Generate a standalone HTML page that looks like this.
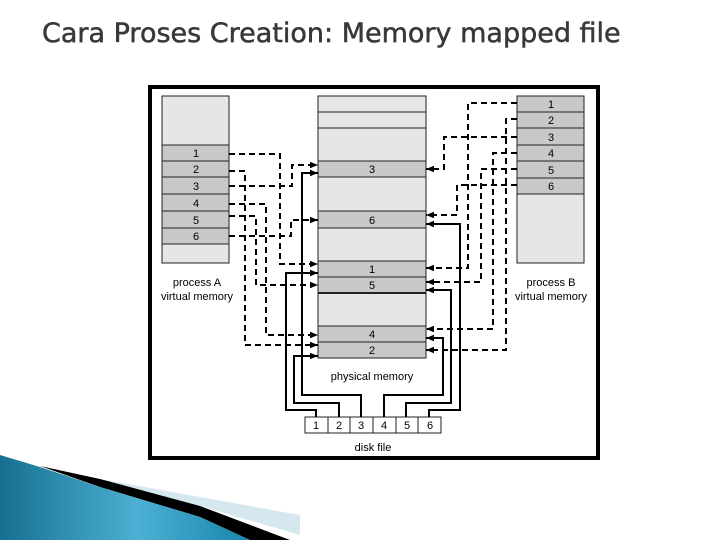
<!DOCTYPE html>
<html><head><meta charset="utf-8"><style>
html,body{margin:0;padding:0;background:#fff;}
svg{display:block}
</style></head><body>
<svg width="720" height="540" viewBox="0 0 720 540" xmlns="http://www.w3.org/2000/svg">
<defs>
<marker id="ar" viewBox="0 0 10 10" refX="10" refY="5" markerWidth="8" markerHeight="8" markerUnits="userSpaceOnUse" orient="auto"><path d="M0,1 L10,5 L0,9 z" fill="#000"/></marker>
<linearGradient id="bl" x1="0" y1="0" x2="1" y2="0"><stop offset="0" stop-color="#17708f"/><stop offset="0.55" stop-color="#4bb0d4"/><stop offset="1" stop-color="#1a86aa"/></linearGradient>
</defs>
<text x="42" y="42" font-family="DejaVu Sans, sans-serif" font-size="27" fill="#383838" stroke="#383838" stroke-width="0.5">Cara Proses Creation: Memory mapped file</text>

<!-- frame -->
<rect x="150" y="87" width="448" height="371" fill="#fff" stroke="#000" stroke-width="4"/>

<g stroke="#222" stroke-width="1">
<rect x="162" y="96" width="67" height="167" fill="#e6e6e6"/>
<rect x="162" y="145" width="67" height="99" fill="#c8c8c8"/>
<line x1="162" y1="161" x2="229" y2="161"/><line x1="162" y1="177" x2="229" y2="177"/><line x1="162" y1="194" x2="229" y2="194"/><line x1="162" y1="211" x2="229" y2="211"/><line x1="162" y1="228" x2="229" y2="228"/><line x1="162" y1="244" x2="229" y2="244"/><line x1="162" y1="145" x2="229" y2="145"/>
<rect x="318" y="96" width="108" height="262" fill="#e6e6e6"/>
<rect x="318" y="161" width="108" height="16" fill="#c8c8c8"/>
<rect x="318" y="211" width="108" height="17" fill="#c8c8c8"/>
<rect x="318" y="261" width="108" height="32" fill="#c8c8c8"/>
<rect x="318" y="326" width="108" height="32" fill="#c8c8c8"/>
<line x1="318" y1="112" x2="426" y2="112"/><line x1="318" y1="128" x2="426" y2="128"/><line x1="318" y1="277" x2="426" y2="277"/><line x1="318" y1="342" x2="426" y2="342"/>
<line x1="318" y1="293" x2="426" y2="293" stroke-width="2"/>
<rect x="517" y="96" width="67" height="167" fill="#e6e6e6"/>
<rect x="517" y="96" width="67" height="98" fill="#c8c8c8"/>
<line x1="517" y1="112" x2="584" y2="112"/><line x1="517" y1="128" x2="584" y2="128"/><line x1="517" y1="145" x2="584" y2="145"/><line x1="517" y1="161" x2="584" y2="161"/><line x1="517" y1="178" x2="584" y2="178"/><line x1="517" y1="194" x2="584" y2="194"/>
<rect x="305" y="417" width="136" height="16" fill="#fff"/>
<line x1="328" y1="417" x2="328" y2="433"/><line x1="350" y1="417" x2="350" y2="433"/><line x1="373" y1="417" x2="373" y2="433"/><line x1="396" y1="417" x2="396" y2="433"/><line x1="418" y1="417" x2="418" y2="433"/>
</g>

<g font-family="Liberation Sans, sans-serif" font-size="11" text-anchor="middle" fill="#000">
<text x="196" y="157">1</text><text x="196" y="173">2</text><text x="196" y="190">3</text><text x="196" y="207">4</text><text x="196" y="224">5</text><text x="196" y="240">6</text>
<text x="372" y="173">3</text><text x="372" y="224">6</text><text x="372" y="273">1</text><text x="372" y="289">5</text><text x="372" y="338">4</text><text x="372" y="354">2</text>
<text x="551" y="108">1</text><text x="551" y="124">2</text><text x="551" y="141">3</text><text x="551" y="157">4</text><text x="551" y="174">5</text><text x="551" y="190">6</text>
<text x="316" y="429">1</text><text x="339" y="429">2</text><text x="361" y="429">3</text><text x="384" y="429">4</text><text x="407" y="429">5</text><text x="430" y="429">6</text>
<text x="197" y="286">process A</text><text x="197" y="300">virtual memory</text>
<text x="551" y="286">process B</text><text x="551" y="300">virtual memory</text>
<text x="372" y="380">physical memory</text>
<text x="373" y="451">disk file</text>
</g>

<g fill="none" stroke="#000" stroke-width="2" marker-end="url(#ar)">
<polyline points="316,417 316,410 286,410 286,273 318,273"/>
<polyline points="339,417 339,403 294,403 294,356 318,356"/>
<polyline points="361,417 361,395 302,395 302,173 318,173"/>
<polyline points="384,417 384,395 443,395 443,338 426,338"/>
<polyline points="406,417 406,403 451,403 451,290 426,290"/>
<polyline points="429,417 429,410 460,410 460,224 426,224"/>
</g>
<g fill="none" stroke="#000" stroke-width="2" stroke-dasharray="6,4" marker-end="url(#ar)">
<polyline points="229,154 280,154 280,264 318,264"/>
<polyline points="229,171 245,171 245,345 318,345"/>
<polyline points="229,186 292,186 292,165 318,165"/>
<polyline points="229,204 266,204 266,335 318,335"/>
<polyline points="229,216 256,216 256,285 318,285"/>
<polyline points="229,236 291,236 291,220 318,220"/>
<polyline points="517,103 468,103 468,268 426,268"/>
<polyline points="517,119 506,119 506,350 426,350"/>
<polyline points="517,137 444,137 444,169 426,169"/>
<polyline points="517,153 493,153 493,329 426,329"/>
<polyline points="517,169 481,169 481,282 426,282"/>
<polyline points="517,185 457,185 457,215 426,215"/>
</g>

<!-- decoration -->
<polygon points="100,479 300,515 300,535 200,506" fill="#d6e8ef"/>
<polygon points="40,466 100,479 200,506 290,540 250,540 200,517 100,487" fill="#000"/>
<polygon points="0,455 40,467 100,487 200,517 250,540 0,540" fill="url(#bl)"/>
</svg>
</body></html>
